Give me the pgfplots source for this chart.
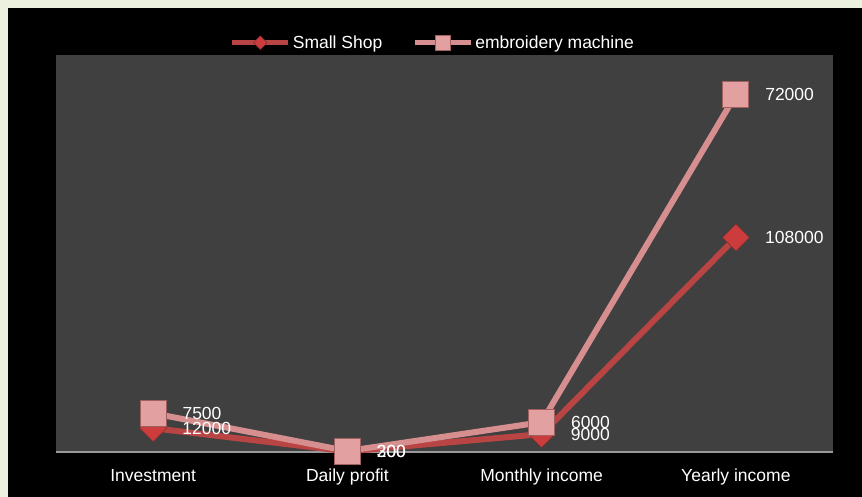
\documentclass[border=0pt]{standalone}
\usepackage{fontspec}
\setmainfont{Liberation Sans}
\usepackage{pgfplots}
\pgfplotsset{compat=1.18}
\definecolor{bggreen}{RGB}{235,241,222}
\definecolor{plotgray}{RGB}{64,64,64}
\definecolor{shopred}{RGB}{184,68,68}
\definecolor{shopmark}{RGB}{205,60,60}
\definecolor{embpink}{RGB}{214,142,142}
\definecolor{embmark}{RGB}{226,160,160}
\definecolor{embedge}{RGB}{160,96,96}
\begin{document}
\begin{tikzpicture}
\useasboundingbox (0,0) rectangle (862pt,497pt);
\fill[bggreen] (0,0) rectangle (862pt,497pt);
\fill[black] (8pt,0) rectangle (862pt,489pt);
\begin{axis}[
    at={(56pt,45pt)}, anchor=south west,
    width=777pt, height=397pt,
    scale only axis,
    clip=false,
    axis background/.style={fill=plotgray},
    axis x line*=bottom,
    hide y axis,
    x axis line style={draw=gray!80, line width=1.5pt, -},
    xmin=-0.5, xmax=3.5,
    ymin=0, ymax=200000,
    xtick={0,1,2,3},
    xticklabels={Investment, Daily profit, Monthly income, Yearly income},
    xtick style={draw=none},
    x tick label style={font=\fontsize{17.5}{20}\selectfont, text=white,
        anchor=north, inner sep=0pt, yshift=-17pt},
    point meta=explicit symbolic,
    nodes near coords,
    nodes near coords align=horizontal,
    every node near coord/.append style={anchor=west, inner sep=0pt,
        xshift=29pt, text=white, font=\fontsize{17.5}{20}\selectfont},
    legend columns=2,
    legend style={at={(0.485,1)}, anchor=south, yshift=3pt,
        draw=none, fill=none, text=white,
        font=\fontsize{17.5}{20}\selectfont,
        inner sep=0pt,
        nodes={inner sep=2pt},
        /tikz/every even column/.append style={column sep=28pt}},
    legend image code/.code={%
        \draw[mark repeat=2, mark phase=2, #1]
            plot coordinates {(0pt,0pt) (28pt,0pt) (56pt,0pt)};},
]
% Small Shop
\addplot[color=shopred, line width=6pt, mark=square*, mark size=9.5pt,
    mark options={rotate=45, fill=shopmark, draw=shopred!70!black, line width=0.6pt},
    legend image post style={line width=5pt, mark size=4.8pt}]
    coordinates {(0,12000)[12000] (1,300)[300] (2,9000)[9000] (3,108000)[108000]};
\addlegendentry{Small Shop}
% embroidery machine, stacked on Small Shop (y = shop + machine)
\addplot[color=embpink, line width=6pt, mark=square*, mark size=13pt,
    mark options={fill=embmark, draw=embedge, line width=0.8pt},
    legend image post style={line width=5pt, mark size=7.5pt}]
    coordinates {(0,19500)[7500] (1,500)[200] (2,15000)[6000] (3,180000)[72000]};
\addlegendentry{embroidery machine}
\end{axis}
\end{tikzpicture}
\end{document}
